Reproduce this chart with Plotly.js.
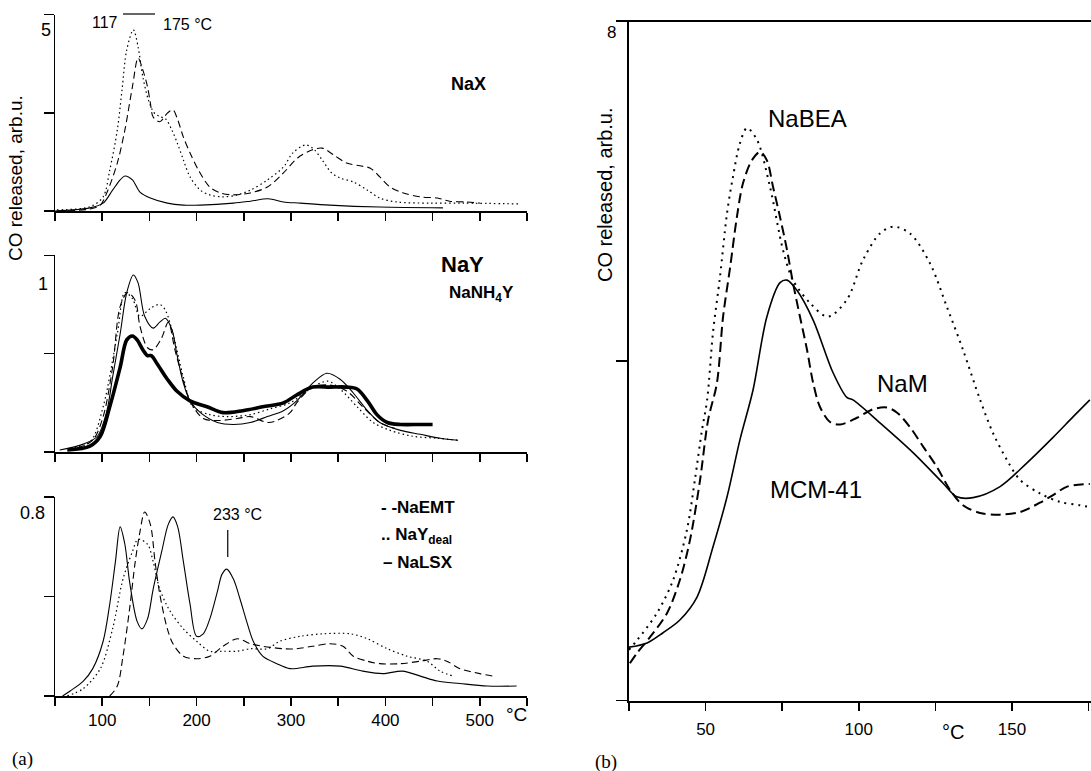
<!DOCTYPE html>
<html><head><meta charset="utf-8">
<script src="https://cdn.plot.ly/plotly-3.0.1.min.js"></script>
<style>html,body{margin:0;padding:0;background:#fff;}#chart{width:1091px;height:771px;}</style>
</head><body><div id="chart"></div>
<script>
// ---------- Panel (a), top: NaX ----------
const naxDotT = [52,87,101,108,116,121,126,133,138,143,149,155,161,167,174,180,186,193,204,214,228,243,257,275,292,302,315,323,333,343,352,366,381,394,412,447,482,543];
const naxDotV = [0.03,0.11,0.36,1.04,2.06,3.08,4.10,4.61,4.18,3.42,2.82,2.50,2.40,2.35,2.05,1.70,1.30,0.87,0.53,0.41,0.36,0.41,0.53,0.79,1.12,1.48,1.68,1.60,1.30,0.97,0.84,0.74,0.53,0.33,0.23,0.20,0.20,0.18];
const naxDashT = [52,87,98,106,116,124,132,138,143,148,151,154,161,169,175,180,186,193,202,214,225,239,257,275,292,307,322,333,345,359,373,384,394,405,419,437,455,468,486,500];
const naxDashV = [0,0.05,0.15,0.53,1.22,2.06,3.16,3.89,3.59,3.16,2.75,2.39,2.27,2.49,2.57,2.32,1.88,1.48,1.04,0.61,0.46,0.41,0.46,0.61,0.97,1.35,1.55,1.60,1.43,1.22,1.15,1.09,0.87,0.61,0.46,0.36,0.33,0.25,0.23,0.20];
const naxSolT = [50,87,101,111,119,124,132,140,151,169,186,204,239,257,276,292,310,341,394,461];
const naxSolV = [0,0.08,0.20,0.53,0.79,0.89,0.79,0.48,0.33,0.20,0.15,0.15,0.20,0.25,0.31,0.23,0.20,0.15,0.10,0.08];

// ---------- Panel (a), middle: NaY / NaNH4Y ----------
const nayThinT = [55,80,95,105,111,119,126,133,138,145,154,161,167,174,179,186,193,204,222,239,257,275,292,306,323,338,352,366,381,394,416,437,458,477];
const nayThinV = [0.01,0.04,0.08,0.21,0.38,0.60,0.81,0.90,0.86,0.69,0.63,0.66,0.68,0.62,0.50,0.35,0.26,0.20,0.15,0.14,0.15,0.18,0.21,0.26,0.35,0.40,0.37,0.30,0.21,0.15,0.11,0.09,0.07,0.06];
const nayThickT = [63,87,98,108,119,126,132,137,143,148,152,158,169,179,193,211,228,249,270,292,306,323,341,359,370,381,391,402,416,437,450];
const nayThickV = [0.01,0.03,0.08,0.23,0.43,0.57,0.59,0.57,0.52,0.49,0.49,0.45,0.37,0.31,0.26,0.23,0.20,0.21,0.23,0.25,0.29,0.33,0.33,0.33,0.32,0.26,0.19,0.15,0.14,0.14,0.14];
const nayDashT = [73,90,101,111,119,127,135,140,148,154,163,170,177,185,193,207,222,243,257,275,285,299,306,323,341,359,376,394,410];
const nayDashV = [0.02,0.06,0.18,0.43,0.74,0.81,0.77,0.64,0.53,0.52,0.58,0.66,0.52,0.38,0.26,0.17,0.16,0.17,0.18,0.15,0.16,0.20,0.25,0.33,0.34,0.31,0.23,0.15,0.12];
const nayDotT = [66,87,101,116,124,132,140,151,161,167,175,186,196,214,232,257,278,299,323,339,352,370,387,405,429,455,476];
const nayDotV = [0.02,0.05,0.23,0.60,0.81,0.78,0.69,0.73,0.75,0.72,0.60,0.38,0.23,0.19,0.18,0.19,0.22,0.25,0.33,0.36,0.32,0.23,0.15,0.11,0.08,0.07,0.06];

// ---------- Panel (a), bottom: NaEMT, NaYdeal, NaLSX ----------
const lsxT = [58,66,80,90,101,108,114,119,124,129,137,142,148,154,163,170,175,180,186,193,200,207,214,222,227,232,239,246,253,260,270,285,299,323,352,376,397,418,437,455,479,508,539];
const lsxV = [0,0.02,0.06,0.11,0.22,0.37,0.54,0.68,0.61,0.46,0.30,0.27,0.31,0.43,0.58,0.69,0.72,0.68,0.54,0.37,0.24,0.25,0.31,0.42,0.49,0.51,0.47,0.39,0.30,0.22,0.16,0.13,0.11,0.12,0.12,0.10,0.09,0.10,0.08,0.06,0.05,0.04,0.04];
const emtT = [108,116,122,129,135,140,145,151,156,161,169,175,186,200,214,228,243,257,270,292,306,323,341,355,366,381,394,416,437,455,465,479,500,514];
const emtV = [0,0.04,0.16,0.35,0.54,0.66,0.74,0.69,0.54,0.41,0.27,0.21,0.16,0.15,0.16,0.20,0.23,0.21,0.20,0.19,0.19,0.20,0.21,0.20,0.16,0.14,0.13,0.13,0.14,0.15,0.14,0.11,0.09,0.08];
const dealT = [63,80,98,111,122,132,138,148,154,161,172,186,200,214,228,243,257,275,288,310,334,363,381,402,423,444,458,472];
const dealV = [0,0.03,0.11,0.27,0.47,0.58,0.63,0.61,0.54,0.43,0.34,0.27,0.22,0.18,0.18,0.18,0.19,0.19,0.22,0.24,0.25,0.25,0.23,0.19,0.16,0.14,0.10,0.08];

// ---------- Panel (b): NaBEA, NaM, MCM-41 ----------
const beaT = [25,27.6,34.1,39.4,43.9,46.5,48.8,50.5,52.4,54.7,57,58.9,61.2,63.5,66.8,71,75.3,78.5,84.1,89.9,96.1,101.4,106.9,111.2,116.7,123.2,128.8,134,139.6,143.8,148.4,152.6,159.1,165.7,172.2,175.4];
const beaV = [0.60,0.71,1.03,1.42,2.01,2.60,3.18,3.54,4.33,4.99,5.74,6.16,6.56,6.74,6.60,6.05,5.30,4.95,4.68,4.52,4.72,5.19,5.50,5.58,5.50,5.15,4.63,4.13,3.54,3.15,2.83,2.60,2.44,2.34,2.30,2.28];
const namT = [25.3,27.6,31.9,37.4,41.6,44.9,48.2,50.8,53.7,55.7,58,60.2,62.2,65.1,67.8,70,72,74.3,76.6,78.5,80.8,83.1,85.1,87.3,90.6,93.9,99.4,104.6,109.2,112.5,116.7,121,125.5,129.8,134,139.6,146.1,152.6,159.1,163.4,168,175.4];
const namV = [0.44,0.56,0.75,1.03,1.42,1.89,2.60,3.30,3.74,4.52,5.10,5.69,6.09,6.36,6.46,6.36,6.05,5.69,5.30,4.92,4.52,4.13,3.74,3.46,3.28,3.25,3.33,3.43,3.45,3.39,3.22,2.99,2.75,2.48,2.30,2.21,2.19,2.22,2.33,2.42,2.52,2.55];
const mcmT = [25,30.9,36.1,41.6,47.2,52.4,57,61.2,65.5,70,74.3,76.6,79.8,85.1,91.6,96.1,98.1,106.9,117.7,127.5,132,137.3,146.1,154.9,163.4,169.9,175.4];
const mcmV = [0.63,0.68,0.80,0.95,1.22,1.81,2.40,3.07,3.66,4.52,4.92,4.95,4.83,4.48,3.86,3.57,3.54,3.27,2.92,2.56,2.40,2.39,2.52,2.80,3.10,3.34,3.54];

// tick values / labels
const tickAmajor = [100,200,300,400,500];
const tickAlabels = ['100','200','300','400','500'];
const tickAminor = [50,150,250,350,450,550];
const tickBmajor = [50,100,150];
const tickBlabels = ['50','100','150'];
const tickBminor = [25,75,125,175];

const W = 1091, H = 771;
const px = x => x / W, py = y => 1 - y / H;
const FONT = 'Liberation Sans, Arial, Helvetica, sans-serif';

function tr(x, y, xa, ya, style) {
  return {x: x, y: y, xaxis: xa, yaxis: ya, type: 'scatter', mode: 'lines',
    line: Object.assign({color: '#000', shape: 'spline', smoothing: 0.9}, style), hoverinfo: 'skip', showlegend: false};
}
const SOL = {width: 1.1}, DASH = {width: 1.1, dash: '7px,4px'}, DOT = {width: 1.2, dash: '1.5px,3px'};

const traces = [
  tr(naxDotT, naxDotV, 'x', 'y', DOT),
  tr(naxDashT, naxDashV, 'x', 'y', DASH),
  tr(naxSolT, naxSolV, 'x', 'y', SOL),
  tr(nayDotT, nayDotV, 'x2', 'y2', DOT),
  tr(nayDashT, nayDashV, 'x2', 'y2', DASH),
  tr(nayThinT, nayThinV, 'x2', 'y2', SOL),
  tr(nayThickT, nayThickV, 'x2', 'y2', {width: 3.6}),
  tr(dealT, dealV, 'x3', 'y3', DOT),
  tr(emtT, emtV, 'x3', 'y3', DASH),
  tr(lsxT, lsxV, 'x3', 'y3', SOL),
  tr(beaT, beaV, 'x4', 'y4', {width: 2, dash: '2px,5px'}),
  tr(namT, namV, 'x4', 'y4', {width: 2, dash: '10px,5px'}),
  tr(mcmT, mcmV, 'x4', 'y4', {width: 1.6})
];

const minorStyle = {ticks: 'outside', ticklen: 8, tickwidth: 1.5, tickcolor: '#000', showgrid: false, tickmode: 'array'};
function xa(anchor, labels) {
  return {domain: [px(55), px(527)], range: [50, 550], anchor: anchor, showline: true, linecolor: '#000', linewidth: 1.5,
    ticks: 'outside', ticklen: 8, tickwidth: 1.5, tickcolor: '#000', tickmode: 'array', tickvals: tickAmajor, ticktext: tickAlabels,
    minor: Object.assign({tickvals: tickAminor}, minorStyle),
    showticklabels: labels, showgrid: false, zeroline: false, tickfont: {family: FONT, size: 17, color: '#000'}};
}
function ya(anchor, d0, d1, top) {
  return {domain: [py(d0), py(d1)], range: [0, top], anchor: anchor, showline: true, linecolor: '#000', linewidth: 1.5,
    ticks: 'outside', ticklen: 10, tickwidth: 1.5, tickcolor: '#000', tickmode: 'array', tickvals: [0, top / 2, top],
    showticklabels: false, showgrid: false, zeroline: false};
}

function ann(text, x, y, size, extra) {
  return Object.assign({text: text, xref: 'paper', yref: 'paper', x: px(x), y: py(y), showarrow: false,
    xanchor: 'center', yanchor: 'middle', font: {family: FONT, size: size, color: '#000'}}, extra || {});
}
const SERIF = {family: 'Liberation Serif, Times New Roman, serif', size: 19, color: '#000'};

const layout = {
  width: W, height: H, margin: {l: 0, r: 0, t: 0, b: 0, pad: 0},
  paper_bgcolor: '#fff', plot_bgcolor: 'rgba(0,0,0,0)', showlegend: false,
  xaxis: xa('y', false), yaxis: ya('x', 211, 14.5, 5),
  xaxis2: xa('y2', false), yaxis2: ya('x2', 452, 255.3, 1),
  xaxis3: xa('y3', true), yaxis3: ya('x3', 696, 497, 0.8),
  xaxis4: {domain: [px(629), 1], range: [25, 175.78], anchor: 'y4', showline: true, linecolor: '#000', linewidth: 2,
    ticks: 'outside', ticklen: 8, tickwidth: 1.5, tickcolor: '#000', tickmode: 'array', tickvals: tickBmajor, ticktext: tickBlabels,
    minor: Object.assign({tickvals: tickBminor}, minorStyle),
    showgrid: false, zeroline: false, ticklabelstandoff: 4, tickfont: {family: FONT, size: 17, color: '#000'}},
  yaxis4: {domain: [py(700.7), py(21)], range: [0, 8], anchor: 'x4', showline: true, linecolor: '#000', linewidth: 2,
    ticks: 'outside', ticklen: 11, tickwidth: 1.5, tickcolor: '#000', tickmode: 'array', tickvals: [0, 4, 8],
    showticklabels: false, showgrid: false, zeroline: false},
  shapes: [
    {type: 'line', xref: 'paper', yref: 'paper', x0: px(618), x1: 1, y0: py(21), y1: py(21), line: {color: '#000', width: 2}},
    {type: 'line', xref: 'paper', yref: 'paper', x0: px(123), x1: px(155), y0: py(14), y1: py(14), line: {color: '#000', width: 1.2}},
    {type: 'line', xref: 'x3', yref: 'paper', x0: 233, x1: 233, y0: py(557), y1: py(530), line: {color: '#000', width: 1.2}}
  ],
  annotations: [
    ann('CO released, arb.u.', 15, 178, 19, {textangle: -90}),
    ann('5', 46, 30, 18), ann('1', 43, 284, 18), ann('0.8', 32, 513, 18),
    ann('117', 105, 22, 16), ann('175 °C', 187, 25, 16),
    ann('<b>NaX</b>', 468, 84, 18),
    ann('<b>NaY</b>', 462, 264, 22),
    ann('<b>NaNH<sub>4</sub>Y</b>', 481, 294, 17),
    ann('233 °C', 237, 514, 16),
    ann('<b>- -NaEMT</b>', 379, 507, 17, {xanchor: 'left'}),
    ann('<b>.. NaY<sub>deal</sub></b>', 379, 536, 17, {xanchor: 'left'}),
    ann('<b>– NaLSX</b>', 381, 562, 17, {xanchor: 'left'}),
    ann('°C', 516, 714, 19),
    ann('(a)', 22, 759, 19, {font: SERIF}),
    ann('CO released, arb.u.', 605, 195, 20, {textangle: -90}),
    ann('8', 612, 33, 17),
    ann('NaBEA', 807, 118, 24),
    ann('NaM', 902, 383, 24),
    ann('MCM-41', 816, 490, 24),
    ann('°C', 953, 732, 20),
    ann('(b)', 606, 762, 19, {font: SERIF})
  ]
};

Plotly.newPlot('chart', traces, layout, {staticPlot: true, displayModeBar: false});
</script></body></html>
